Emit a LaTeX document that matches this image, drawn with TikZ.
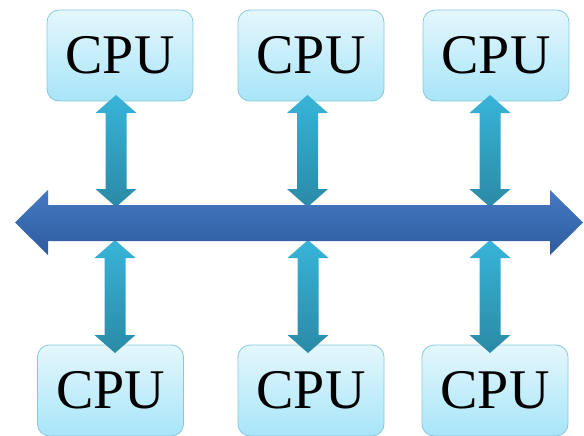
\documentclass[tikz,border=0pt]{standalone}
\usepackage{fontspec}
\setmainfont{Liberation Serif}
\definecolor{boxtop}{HTML}{E4F7FD}
\definecolor{boxbot}{HTML}{A8E5F8}
\definecolor{boxline}{HTML}{88C8DE}
\definecolor{linktop}{HTML}{38B4D8}
\definecolor{linkbot}{HTML}{2A8AA6}
\definecolor{bustop}{HTML}{4579C2}
\definecolor{busbot}{HTML}{2D5C9E}
\tikzset{
  cpu/.style={draw=boxline, line width=0.8pt, rounded corners=12pt,
    top color=boxtop, bottom color=boxbot,
    minimum width=146pt, minimum height=91pt, inner sep=0pt,
    font=\fontsize{56}{60}\selectfont},
  link/.style={top color=linktop, bottom color=linkbot},
  bus/.style={top color=bustop, bottom color=busbot}
}
% vertical double arrow: x, top tip y, bottom tip y
\newcommand\cpuLink[3]{%
  \path[link] (#1,#2) -- ({#1+20.5},{#2+18}) -- ({#1+10.5},{#2+18})
    -- ({#1+10.5},{#3-18}) -- ({#1+20.5},{#3-18}) -- (#1,#3)
    -- ({#1-20.5},{#3-18}) -- ({#1-10.5},{#3-18}) -- ({#1-10.5},{#2+18})
    -- ({#1-20.5},{#2+18}) -- cycle;}
\begin{document}
\begin{tikzpicture}[x=1pt,y=-1pt]
  \useasboundingbox (0,0) rectangle (584,436);
  % processors above the bus
  \node[cpu] (t1) at (120,55.5) {CPU};
  \node[cpu] (t2) at (311,55.5) {CPU};
  \node[cpu] (t3) at (496,55.5) {CPU};
  % processors below the bus
  \node[cpu] (b1) at (110.5,390.5) {CPU};
  \node[cpu] (b2) at (311,390.5) {CPU};
  \node[cpu] (b3) at (495,390.5) {CPU};
  % links between processors and the bus
  \cpuLink{116}{95}{207}
  \cpuLink{307.5}{95}{207}
  \cpuLink{490}{95}{207}
  \cpuLink{115}{240}{353}
  \cpuLink{308}{240}{353}
  \cpuLink{490}{240}{353}
  % the shared bus
  \path[bus] (15,222.5) -- (48,190) -- (48,205) -- (550,205) -- (550,190)
    -- (583,222.5) -- (550,255) -- (550,241) -- (48,241) -- (48,255) -- cycle;
\end{tikzpicture}
\end{document}
